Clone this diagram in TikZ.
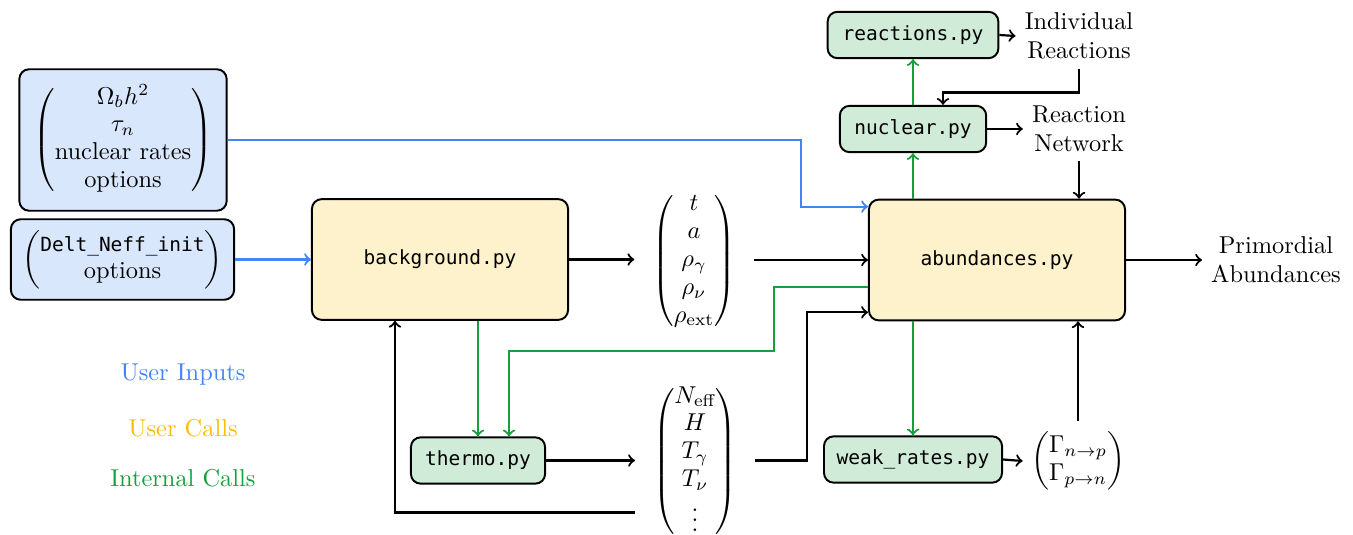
\documentclass[tikz,border=0pt]{standalone}
\usepackage{amsmath}
\usepackage{fontspec}
\setmonofont{DejaVu Sans Mono}[Scale=0.8]
\usetikzlibrary{arrows,shapes,positioning,calc}
\definecolor{inblue}{RGB}{66,133,244}
\definecolor{callyellow}{RGB}{251,188,5}
\definecolor{callgreen}{RGB}{20,160,60}
\tikzset{
  basic/.style    = {draw, thick, rounded corners=4pt, align=center, font=\ttfamily},
  input/.style    = {basic, fill=inblue!20, font=\normalfont},
  usercall/.style = {basic, fill=callyellow!20, minimum width=105pt, minimum height=49.5pt},
  internal/.style = {basic, fill=callgreen!20, minimum height=19pt},
  vals/.style     = {inner xsep=7pt, inner ysep=1pt},
  label/.style    = {align=center}
}
\renewcommand{\arraystretch}{0.95}

\begin{document}
\begin{tikzpicture}[x=0.41pt, y=-0.41pt, >=to, line width=0.9pt]
\useasboundingbox (0,0) rectangle (1353,535);

% what the user hands in
\node[input, minimum width=85pt, minimum height=58pt] (params) at (123,140)
  {$\begin{pmatrix} \makebox[56pt]{$\Omega_b h^2$} \\ \tau_n \\ \text{nuclear rates} \\ \text{options} \end{pmatrix}$};
\node[input, minimum width=91.5pt, minimum height=33pt] (deltneff) at (122.5,259.5)
  {$\begin{pmatrix} \texttt{Delt\_Neff\_init} \\ \text{options} \end{pmatrix}$};

% the modules
\node[usercall] (background) at (440,259.5) {background.py};
\node[usercall] (abundances) at (997,260) {abundances.py};
\node[internal, minimum width=55pt] (thermo) at (478,460.5) {thermo.py};
\node[internal, minimum width=73pt] (weak) at (913,459.5) {weak\_rates.py};
\node[internal, minimum width=60pt] (nuclear) at (913,129) {nuclear.py};
\node[internal, minimum width=70pt] (reactions) at (913,35) {reactions.py};

% what comes out of them
\node[vals] (bgout) at (694,261)
  {$\begin{pmatrix} t \\ a \\ \rho_\gamma \\ \rho_\nu \\ \rho_{\text{ext}} \end{pmatrix}$};
\node[vals, anchor=north] (thermoout) at (695,380)
  {$\begin{pmatrix} N_{\text{eff}} \\ H \\ T_\gamma \\ T_\nu \\ \vdots \end{pmatrix}$};
\node[vals, inner xsep=3pt, inner ysep=4pt] (rates) at (1078,461)
  {$\begin{pmatrix} \Gamma_{n\to p} \\ \Gamma_{p\to n} \end{pmatrix}$};
\node[label] (indiv) at (1079,36) {Individual\\Reactions};
\node[label] (network) at (1079,129) {Reaction\\Network};
\node[label] (primordial) at (1276,260) {Primordial\\Abundances};

% legend
\node[text=inblue] (leginput) at (183,375) {User Inputs};
\node[text=callyellow] (legcall) at (183,428) {User Calls};
\node[text=callgreen] (leginternal) at (183,478) {Internal Calls};

% user inputs
\draw[->, inblue] (params.east) -- ++(573,0) |- ($(abundances.north west)+(0,8)$);
\draw[->, inblue] (deltneff.east) -- (deltneff.east -| background.west);

% internal calls
\draw[->, callgreen] (background.south -| thermo.north) -- (thermo.north);
\draw[->, callgreen] ($(abundances.west)+(0,27)$) -| ++(-94,64) -| ($(thermo.north)+(31,0)$);
\draw[->, callgreen] (abundances.north -| nuclear.south) -- (nuclear.south);
\draw[->, callgreen] (nuclear.north) -- (reactions.south);
\draw[->, callgreen] (abundances.south -| weak.north) -- (weak.north);

% data flow
\draw[->] (background.east) -- (background.east -| bgout.west);
\draw[->] (bgout.east |- abundances.west) -- (abundances.west);
\draw[->] (thermo.east) -- (thermo.east -| thermoout.west);
\draw[->] (thermoout.east |- thermo.east) -- ++(52,0) |- ($(abundances.south west)+(0,-9)$);
\draw[->] ($(thermo.east -| thermoout.west)+(0,52)$) -| ($(background.south west)+(84,0)$);
\draw[->] (reactions.east) -- (indiv.west);
\draw[->] (indiv.south) -- ++(0,24) -| ($(nuclear.north)+(30,0)$);
\draw[->] (nuclear.east) -- (network.west);
\draw[->] (network.south) -- (network.south |- abundances.north);
\draw[->] (weak.east) -- (rates.west);
\draw[->] (rates.north) -- (rates.north |- abundances.south);
\draw[->] (abundances.east) -- (primordial.west);
\end{tikzpicture}
\end{document}
